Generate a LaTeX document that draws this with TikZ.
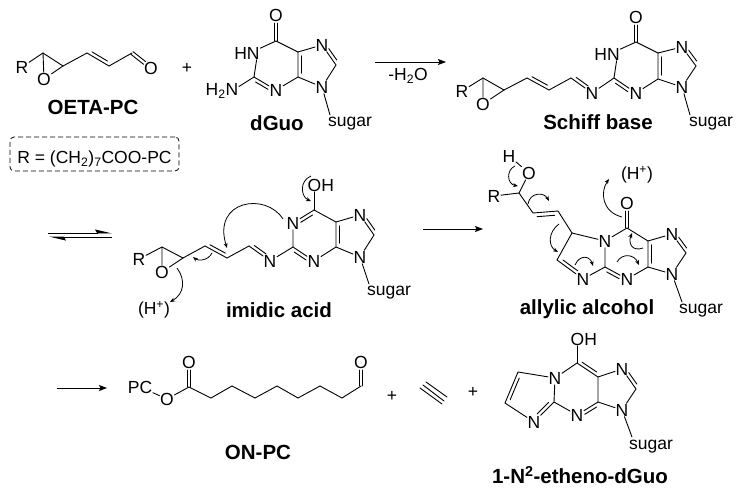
\documentclass[tikz,border=0pt]{standalone}
\usepackage{fontspec}
\setmainfont{Liberation Sans}
\usetikzlibrary{calc,arrows.meta}
\tikzset{
  atom/.style={inner sep=0.5pt,font=\fontsize{17.5}{17.5}\selectfont},
  cpdname/.style={inner sep=0pt,font=\fontsize{20.5}{20.5}\selectfont\bfseries},
  bond/.style={line width=0.9pt,line cap=round},
  fwd/.style={line width=0.9pt,-{Stealth[length=8pt,width=6pt,inset=1.5pt]}},
  eqm/.style={line width=0.9pt,-{Stealth[left,length=15pt,width=7pt,inset=2pt]}},
  push/.style={line width=0.8pt,-{Stealth[length=5pt,width=4pt]}},
}
% inner line of a double bond, and the two lines of a C=O
\newcommand{\dbl}[4][.85]{\draw[bond] ($(#2)!.15!(#3)!#4pt!90:(#3)$) -- ($(#2)!#1!(#3)!#4pt!90:(#3)$);}
\newcommand{\cdo}[2]{
  \draw[bond] ($(#1)!1.7pt!90:(#2)$) -- ($(#2)!8pt!(#1)!1.7pt!-90:(#1)$);
  \draw[bond] ($(#1)!1.7pt!-90:(#2)$) -- ($(#2)!8pt!(#1)!1.7pt!90:(#1)$);}
\begin{document}
\begin{tikzpicture}[x=1pt,y=-1pt]
  \useasboundingbox (0,0) rectangle (742,491);
  % OETA-PC
  \node[atom] (aR) at (22,67) {R};
  \node[atom] (aO) at (44,79) {O};
  \node[atom] (aO2) at (151,68) {O};
  \coordinate (a1) at (43,53);
  \coordinate (a2) at (63,66);
  \coordinate (a3) at (87,53);
  \coordinate (a4) at (109,66);
  \coordinate (a5) at (132,53);
  \draw[bond] (aR) -- (a1) -- (a2) -- (a3) -- (a4) -- (a5);
  \draw[bond] (a1) -- (aO) -- (a2);
  \dbl{a3}{a4}{3.5}
  \cdo{a5}{aO2}
  \node[cpdname] (aname) at (93,107) {OETA-PC};
  \node[atom] (plus1) at (187,68) {+};
  \node[draw,dash pattern=on 5pt off 3pt,rounded corners=4pt,line width=0.8pt,minimum width=169pt,text height=26pt,text depth=7pt,atom] (rbox) at (94.5,154) {R = (CH\textsubscript{2})\textsubscript{7}COO-PC};
  % dGuo
  \node[atom] (bO) at (276,15) {O};
  \node[atom] (bN1) at (247,53) {HN};
  \node[atom] (bN3) at (276,90) {N};
  \node[atom] (bN7) at (322,45) {N};
  \node[atom] (bN9) at (322,87) {N};
  \node[atom] (bNH) at (222,91) {H\textsubscript{2}N};
  \node[atom] (bsug) at (350,124) {sugar};
  \coordinate (b2) at (254,77);
  \coordinate (b4) at (298,77);
  \coordinate (b5) at (298,52);
  \coordinate (b6) at (276,41);
  \coordinate (b8) at (336,65);
  \coordinate (bs) at (330,115);
  \draw[bond] (b6) -- (b5) -- (b4);
  \draw[bond] (b6) -- (bN1.20);
  \draw[bond] (bN1.-35) -- (b2) -- (bN3) -- (b4) -- (bN9) -- (b8) -- (bN7) -- (b5);
  \draw[bond] (b2) -- (bNH.15);
  \draw[bond] (bN9) -- (bs);
  \dbl[.72]{b2}{bN3}{-3.5}
  \dbl{b5}{b4}{3.5}
  \dbl[.72]{b8}{bN7}{-3.5}
  \cdo{b6}{bO}
  \node[cpdname] (bname) at (277,123) {dGuo};
  % first arrow
  \coordinate (c1s) at (375,62);
  \coordinate (c1e) at (446,62);
  \draw[fwd] (c1s) -- (c1e);
  \node[atom] (c1l) at (408,76) {-H\textsubscript{2}O};
  % Schiff base
  \node[atom] (cR) at (462,91) {R};
  \node[atom] (cO) at (483,104) {O};
  \node[atom] (cN) at (592,93) {N};
  \node[atom] (cO6) at (636,17) {O};
  \node[atom] (cN1) at (607,54) {HN};
  \node[atom] (cN3) at (636,93) {N};
  \node[atom] (cN7) at (682,47) {N};
  \node[atom] (cN9) at (682,87) {N};
  \node[atom] (csug) at (711,124) {sugar};
  \coordinate (c1) at (483,78);
  \coordinate (c2) at (504,90);
  \coordinate (c3) at (527,78);
  \coordinate (c4) at (549,90);
  \coordinate (c5) at (571,78);
  \coordinate (d2) at (614,78);
  \coordinate (d4) at (658,79);
  \coordinate (d5) at (658,53);
  \coordinate (d6) at (636,42);
  \coordinate (d8) at (696,66);
  \coordinate (cs) at (690,115);
  \draw[bond] (cR) -- (c1) -- (c2) -- (c3) -- (c4) -- (c5) -- (cN) -- (d2) -- (cN3) -- (d4) -- (cN9) -- (d8) -- (cN7) -- (d5) -- (d4);
  \draw[bond] (c1) -- (cO) -- (c2);
  \draw[bond] (d5) -- (d6) -- (cN1.20);
  \draw[bond] (cN1.-35) -- (d2);
  \draw[bond] (cN9) -- (cs);
  \dbl{c3}{c4}{3.5}
  \dbl[.72]{c5}{cN}{3.5}
  \dbl[.72]{d2}{cN3}{-3.5}
  \dbl{d5}{d4}{3.5}
  \dbl[.72]{d8}{cN7}{-3.5}
  \cdo{d6}{cO6}
  \node[cpdname] (cname) at (598,122) {Schiff base};
  % equilibrium
  \coordinate (e1s) at (48,233);
  \coordinate (e1e) at (112,233);
  \coordinate (e2s) at (112,237);
  \coordinate (e2e) at (49,237);
  \draw[eqm] (e1s) -- (e1e);
  \draw[eqm] (e2s) -- (e2e);
  % imidic acid
  \node[atom] (fR) at (139,259) {R};
  \node[atom] (fO) at (162,272) {O};
  \node[atom] (fN) at (270,261) {N};
  \node[atom] (fN1) at (293,223) {N};
  \node[atom,anchor=west] (fOH) at (307,185) {OH};
  \node[atom] (fN3) at (314,261) {N};
  \node[atom] (fN7) at (360,215) {N};
  \node[atom] (fN9) at (360,257) {N};
  \node[atom] (fsug) at (389,293) {sugar};
  \node[atom] (fH) at (154,310) {(H\textsuperscript{+})};
  \coordinate (f1) at (162,247);
  \coordinate (f2) at (183,258);
  \coordinate (f3) at (205,246);
  \coordinate (f4) at (227,258);
  \coordinate (f5) at (249,246);
  \coordinate (g2) at (293,247);
  \coordinate (g4) at (336,247);
  \coordinate (g5) at (336,222);
  \coordinate (g6) at (314,210);
  \coordinate (g8) at (374,235);
  \coordinate (fs) at (369,284);
  \draw[bond] (fR) -- (f1) -- (f2) -- (f3) -- (f4) -- (f5) -- (fN) -- (g2) -- (fN1) -- (g6) -- (g5) -- (g4) -- (fN3) -- (g2);
  \draw[bond] (f1) -- (fO) -- (f2);
  \draw[bond] (g4) -- (fN9) -- (g8) -- (fN7) -- (g5);
  \draw[bond] (g6) -- (g6 |- fOH.south);
  \draw[bond] (fN9) -- (fs);
  \dbl{f3}{f4}{3.5}
  \dbl[.72]{f5}{fN}{3.5}
  \dbl[.72]{g6}{fN1}{3.5}
  \dbl[.72]{g2}{fN3}{-3.5}
  \dbl{g5}{g4}{3.5}
  \dbl[.72]{g8}{fN7}{-3.5}
  \draw[push] (283,219) .. controls (266,192) and (212,200) .. (227,248);
  \draw[push] (212,253) .. controls (208,261) and (198,261) .. (193,257);
  \draw[push] (177,268) .. controls (186,280) and (184,294) .. (170,302);
  \draw[push] (311,176) .. controls (299,181) and (301,197) .. (311,201);
  \node[cpdname] (fname) at (279,310) {imidic acid};
  % second arrow
  \coordinate (h1s) at (423,229);
  \coordinate (h1e) at (483,229);
  \draw[fwd] (h1s) -- (h1e);
  % allylic alcohol
  \node[atom] (iH) at (509,156) {H};
  \node[atom] (iO) at (529,173) {O};
  \node[atom] (iR) at (494,196) {R};
  \node[atom] (iN1) at (605,241) {N};
  \node[atom] (iO6) at (627,203) {O};
  \node[atom] (iN) at (583,279) {N};
  \node[atom] (iN3) at (627,279) {N};
  \node[atom] (iN7) at (672,234) {N};
  \node[atom] (iN9) at (672,274) {N};
  \node[atom] (isug) at (701,311) {sugar};
  \node[atom] (iHp) at (637,175) {(H\textsuperscript{+})};
  \coordinate (i1) at (519,193);
  \coordinate (i2) at (533,213);
  \coordinate (i3) at (558,211);
  \coordinate (i4) at (572,233);
  \coordinate (i5) at (557,260);
  \coordinate (j2) at (605,267);
  \coordinate (j4) at (648,267);
  \coordinate (j5) at (648,241);
  \coordinate (j6) at (627,228);
  \coordinate (j8) at (686,253);
  \coordinate (is) at (682,302);
  \draw[bond] (iH) -- (iO) -- (i1) -- (i2) -- (i3) -- (i4) -- (iN1) -- (j6) -- (j5) -- (j4) -- (iN3) -- (j2) -- (iN1);
  \draw[bond] (iR) -- (i1);
  \draw[bond] (i4) -- (i5) -- (iN) -- (j2);
  \draw[bond] (j4) -- (iN9) -- (j8) -- (iN7) -- (j5);
  \draw[bond] (iN9) -- (is);
  \dbl{i2}{i3}{-4}
  \dbl[.72]{i5}{iN}{3.5}
  \dbl[.72]{j2}{iN3}{-3.5}
  \dbl{j5}{j4}{3.5}
  \dbl[.72]{j8}{iN7}{-3.5}
  \cdo{j6}{iO6}
  \draw[push] (515,166) .. controls (506,170) and (507,184) .. (518,186);
  \draw[push] (528,204) .. controls (530,192) and (544,192) .. (549,201);
  \draw[push] (559,224) .. controls (548,232) and (548,246) .. (558,252);
  \draw[push] (575,265) .. controls (580,254) and (590,256) .. (593,266);
  \draw[push] (617,262) .. controls (622,253) and (634,254) .. (639,265);
  \draw[push] (643,248) .. controls (632,252) and (628,243) .. (632,233);
  \draw[push] (622,217) .. controls (602,212) and (600,192) .. (609,179);
  \node[cpdname] (iname) at (587,309) {allylic alcohol};
  % third arrow
  \coordinate (k1s) at (57,388);
  \coordinate (k1e) at (107,388);
  \draw[fwd] (k1s) -- (k1e);
  % ON-PC
  \node[atom] (lP) at (140,387) {PC};
  \node[atom] (lO) at (167,399) {O};
  \node[atom] (lO1) at (189,362) {O};
  \node[atom] (lO2) at (361,362) {O};
  \coordinate (l1) at (189,387);
  \coordinate (l2) at (211,398);
  \coordinate (l3) at (232,386);
  \coordinate (l4) at (255,398);
  \coordinate (l5) at (277,386);
  \coordinate (l6) at (298,398);
  \coordinate (l7) at (320,386);
  \coordinate (l8) at (342,398);
  \coordinate (l9) at (361,386);
  \draw[bond] (lP) -- (lO) -- (l1) -- (l2) -- (l3) -- (l4) -- (l5) -- (l6) -- (l7) -- (l8) -- (l9);
  \cdo{l1}{lO1}
  \cdo{l9}{lO2}
  \node[cpdname] (lname) at (258,452) {ON-PC};
  \node[atom] (plus2) at (392,396) {+};
  % ethyne
  \coordinate (m1) at (426,382);
  \coordinate (m2) at (447,397);
  \coordinate (m3) at (423,385);
  \coordinate (m4) at (444,401);
  \coordinate (m5) at (420,388);
  \coordinate (m6) at (442,404);
  \draw[bond] (m1) -- (m2);
  \draw[bond] (m3) -- (m4);
  \draw[bond] (m5) -- (m6);
  \node[atom] (plus3) at (473,392) {+};
  % etheno
  \node[atom] (nN1) at (555,378) {N};
  \node[atom,anchor=west] (nOH) at (570,339) {OH};
  \node[atom] (nN) at (534,422) {N};
  \node[atom] (nN3) at (577,415) {N};
  \node[atom] (nN7) at (622,369) {N};
  \node[atom] (nN9) at (622,410) {N};
  \node[atom] (nsug) at (651,447) {sugar};
  \coordinate (n1) at (518,372);
  \coordinate (n2) at (505,403);
  \coordinate (o2) at (554,402);
  \coordinate (o4) at (598,402);
  \coordinate (o5) at (598,377);
  \coordinate (o6) at (577,363);
  \coordinate (o8) at (636,389);
  \coordinate (ns) at (632,437);
  \draw[bond] (nN1) -- (n1) -- (n2) -- (nN) -- (o2) -- (nN1) -- (o6) -- (o5) -- (o4) -- (nN3) -- (o2);
  \draw[bond] (o4) -- (nN9) -- (o8) -- (nN7) -- (o5);
  \draw[bond] (o6) -- (o6 |- nOH.south);
  \draw[bond] (nN9) -- (ns);
  \dbl{n1}{n2}{3.5}
  \dbl[.72]{o2}{nN}{-3.5}
  \dbl[.72]{o4}{nN3}{3.5}
  \dbl{o6}{o5}{3.5}
  \dbl[.72]{o8}{nN7}{-3.5}
  \node[cpdname] (nname) at (580,475) {1-N\textsuperscript{2}-etheno-dGuo};
\end{tikzpicture}
\end{document}
